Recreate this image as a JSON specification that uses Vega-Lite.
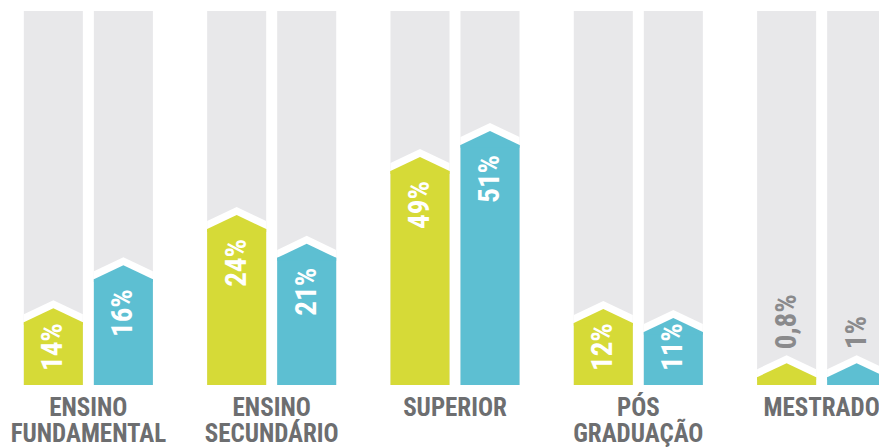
{
  "$schema": "https://vega.github.io/schema/vega-lite/v6.json",
  "width": 879,
  "height": 374,
  "autosize": {"type": "none"},
  "padding": {"top": 11, "left": 0, "right": 0, "bottom": 62},
  "background": "white",
  "config": {"view": {"stroke": null}},
  "data": {
    "values": [
      {"nivel": "ENSINO FUNDAMENTAL", "serie": "A", "v": 16.8, "label": "14%"},
      {"nivel": "ENSINO FUNDAMENTAL", "serie": "B", "v": 28.3, "label": "16%"},
      {"nivel": "ENSINO SECUNDÁRIO", "serie": "A", "v": 41.7, "label": "24%"},
      {"nivel": "ENSINO SECUNDÁRIO", "serie": "B", "v": 34.0, "label": "21%"},
      {"nivel": "SUPERIOR", "serie": "A", "v": 57.2, "label": "49%"},
      {"nivel": "SUPERIOR", "serie": "B", "v": 64.2, "label": "51%"},
      {"nivel": "PÓS GRADUAÇÃO", "serie": "A", "v": 16.6, "label": "12%"},
      {"nivel": "PÓS GRADUAÇÃO", "serie": "B", "v": 14.2, "label": "11%"},
      {"nivel": "MESTRADO", "serie": "A", "v": 2.1, "label": "0,8%"},
      {"nivel": "MESTRADO", "serie": "B", "v": 2.1, "label": "1%"}
    ]
  },
  "encoding": {
    "x": {
      "field": "nivel",
      "type": "nominal",
      "sort": null,
      "scale": {"range": [0, 910], "paddingInner": 0.296, "paddingOuter": 0.13},
      "axis": {
        "orient": "bottom",
        "title": null,
        "domain": false,
        "ticks": false,
        "tickSize": 0,
        "labelAngle": 0,
        "labelExpr": "split(datum.label, ' ')",
        "labelFont": "Roboto Condensed, DejaVu Sans Condensed, sans-serif",
        "labelFontSize": 25,
        "labelFontWeight": "bold",
        "labelColor": "#6d6e70",
        "labelPadding": 10,
        "labelLineHeight": 26,
        "labelBaseline": "top",
        "labelBound": false,
        "labelOverlap": false,
        "labelFlush": false,
        "labelLimit": 0
      }
    },
    "xOffset": {
      "field": "serie",
      "type": "nominal",
      "scale": {"paddingInner": 0.157, "paddingOuter": 0}
    }
  },
  "layer": [
    {
      "mark": {"type": "bar", "color": "#e8e8ea"},
      "encoding": {
        "y": {"datum": 100, "type": "quantitative", "scale": {"domain": [0, 100], "nice": false, "zero": true}, "axis": null}
      }
    },
    {
      "mark": {"type": "point", "shape": "M-1,0L-1,-0.27L0,-0.745L1,-0.27L1,0Z", "size": 3481, "filled": true, "opacity": 1, "strokeWidth": 0, "color": "white"},
      "encoding": {
        "y": {"field": "v", "type": "quantitative", "axis": null}
      }
    },
    {
      "mark": {"type": "bar"},
      "encoding": {
        "y": {"field": "v", "type": "quantitative", "axis": null},
        "color": {"field": "serie", "type": "nominal", "scale": {"domain": ["A", "B"], "range": ["#d6da37", "#5dbfd2"]}, "legend": null}
      }
    },
    {
      "mark": {"type": "point", "shape": "M-1,0.1L-1,0L0,-0.4746L1,0L1,0.1Z", "size": 3481, "filled": true, "opacity": 1, "strokeWidth": 0},
      "encoding": {
        "y": {"field": "v", "type": "quantitative", "axis": null},
        "color": {"field": "serie", "type": "nominal", "legend": null}
      }
    },
    {
      "transform": [{"filter": "datum.v >= 25"}],
      "mark": {"type": "text", "angle": 270, "align": "right", "baseline": "middle", "dx": -10, "font": "Roboto Condensed, DejaVu Sans Condensed, sans-serif", "fontSize": 29, "fontWeight": "bold", "color": "white"},
      "encoding": {
        "y": {"field": "v", "type": "quantitative", "axis": null},
        "text": {"field": "label"}
      }
    },
    {
      "transform": [{"filter": "datum.v >= 5 && datum.v < 25"}],
      "mark": {"type": "text", "angle": 270, "align": "left", "baseline": "middle", "dx": 14, "font": "Roboto Condensed, DejaVu Sans Condensed, sans-serif", "fontSize": 29, "fontWeight": "bold", "color": "white"},
      "encoding": {
        "y": {"datum": 0, "type": "quantitative", "axis": null},
        "text": {"field": "label"}
      }
    },
    {
      "transform": [{"filter": "datum.v < 5"}],
      "mark": {"type": "text", "angle": 270, "align": "left", "baseline": "middle", "dx": 28, "font": "Roboto Condensed, DejaVu Sans Condensed, sans-serif", "fontSize": 29, "fontWeight": "bold", "color": "#8a8a8c"},
      "encoding": {
        "y": {"field": "v", "type": "quantitative", "axis": null},
        "text": {"field": "label"}
      }
    }
  ]
}
